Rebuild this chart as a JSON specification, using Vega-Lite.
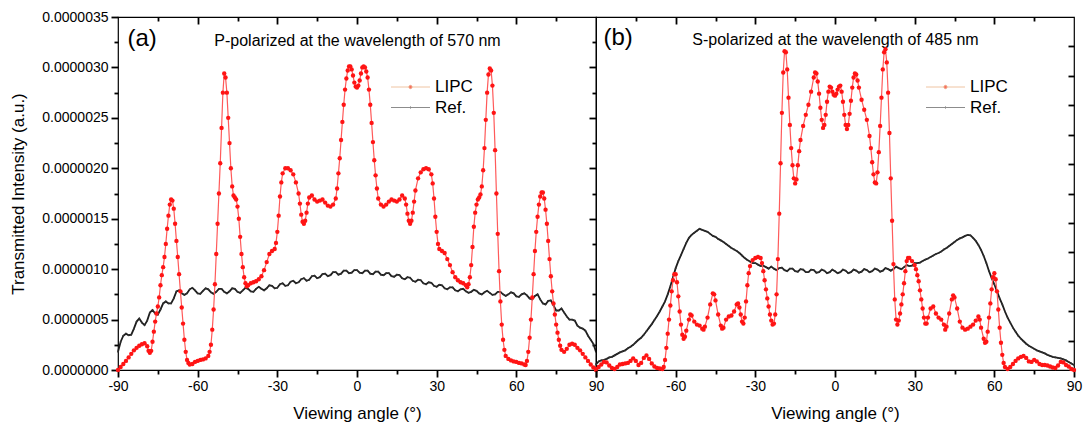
{
"$schema": "https://vega.github.io/schema/vega-lite/v6.json",
"padding": {"left": 8, "top": 9, "right": 0, "bottom": 0},
"autosize": {"type": "pad"},
"bounds": "flush",
"spacing": 0,
"config": {
 "font": "Liberation Sans",
 "view": {"stroke": "#000000", "strokeWidth": 1.2},
 "axis": {"grid": false, "domain": false, "labelColor": "#000000", "titleColor": "#000000", "labelFontSize": 14, "titleFontWeight": "normal", "labelFlush": false, "labelOverlap": false},
 "legend": {"labelColor": "#000000"}
},
"resolve": {"scale": {"stroke": "independent", "fill": "independent", "shape": "independent"}, "legend": {"stroke": "independent", "fill": "independent", "shape": "independent"}},
"datasets": {
"aL": [
{"x":-90,"y":0},{"x":-89,"y":0.3e-7},{"x":-88,"y":0.6e-7},{"x":-87,"y":0.9e-7},{"x":-86,"y":1.25e-7},{"x":-85,"y":1.6e-7},{"x":-84,"y":1.95e-7},{"x":-83,"y":2.2e-7},{"x":-82,"y":2.4e-7},{"x":-81,"y":2.55e-7},{"x":-80,"y":2.65e-7},{"x":-79,"y":2.35e-7},{"x":-78.5,"y":1.9e-7},{"x":-78,"y":1.7e-7},{"x":-77.5,"y":1.9e-7},{"x":-77,"y":2.8e-7},{"x":-76.5,"y":3.8e-7},{"x":-76,"y":4.8e-7},{"x":-75.5,"y":5.6e-7},{"x":-75,"y":6.3e-7},{"x":-74.5,"y":7.2e-7},{"x":-74,"y":8.4e-7},{"x":-73.5,"y":9.4e-7},{"x":-73,"y":10.2e-7},{"x":-72.5,"y":11.2e-7},{"x":-72,"y":12.5e-7},{"x":-71.5,"y":14.0e-7},{"x":-71,"y":15.3e-7},{"x":-70.5,"y":16.4e-7},{"x":-70,"y":16.9e-7},{"x":-69.5,"y":16.8e-7},{"x":-69,"y":16.0e-7},{"x":-68.5,"y":14.5e-7},{"x":-68,"y":12.8e-7},{"x":-67.5,"y":11.2e-7},{"x":-67,"y":9.5e-7},{"x":-66.5,"y":7.8e-7},{"x":-66,"y":6.2e-7},{"x":-65.5,"y":4.6e-7},{"x":-65,"y":3.0e-7},{"x":-64.5,"y":1.8e-7},{"x":-64,"y":1.0e-7},{"x":-63.5,"y":0.7e-7},{"x":-63,"y":0.55e-7},{"x":-62,"y":0.6e-7},{"x":-61,"y":0.8e-7},{"x":-60,"y":0.9e-7},{"x":-59,"y":1.0e-7},{"x":-58,"y":1.05e-7},{"x":-57,"y":1.15e-7},{"x":-56,"y":1.4e-7},{"x":-55.5,"y":1.8e-7},{"x":-55,"y":2.5e-7},{"x":-54.5,"y":4.0e-7},{"x":-54,"y":6.0e-7},{"x":-53.5,"y":8.5e-7},{"x":-53,"y":11.5e-7},{"x":-52.5,"y":14.5e-7},{"x":-52,"y":17.5e-7},{"x":-51.5,"y":20.5e-7},{"x":-51,"y":24.0e-7},{"x":-50.5,"y":27.5e-7},{"x":-50,"y":29.4e-7},{"x":-49.5,"y":29.0e-7},{"x":-49,"y":27.5e-7},{"x":-48.5,"y":25.0e-7},{"x":-48,"y":22.5e-7},{"x":-47.5,"y":20.0e-7},{"x":-47,"y":18.2e-7},{"x":-46.5,"y":17.3e-7},{"x":-46,"y":17.1e-7},{"x":-45.5,"y":16.9e-7},{"x":-45,"y":16.2e-7},{"x":-44.5,"y":15.0e-7},{"x":-44,"y":13.2e-7},{"x":-43.5,"y":11.5e-7},{"x":-43,"y":10.2e-7},{"x":-42.5,"y":9.2e-7},{"x":-42,"y":8.6e-7},{"x":-41.5,"y":8.3e-7},{"x":-41,"y":8.4e-7},{"x":-40,"y":8.6e-7},{"x":-39,"y":8.7e-7},{"x":-38,"y":8.8e-7},{"x":-37,"y":9.0e-7},{"x":-36,"y":9.3e-7},{"x":-35,"y":9.9e-7},{"x":-34,"y":10.7e-7},{"x":-33,"y":11.5e-7},{"x":-32,"y":11.8e-7},{"x":-31,"y":12.0e-7},{"x":-30.5,"y":12.6e-7},{"x":-30,"y":13.7e-7},{"x":-29.5,"y":15.3e-7},{"x":-29,"y":17.2e-7},{"x":-28.5,"y":18.6e-7},{"x":-28,"y":19.5e-7},{"x":-27,"y":20.0e-7},{"x":-26,"y":20.0e-7},{"x":-25,"y":19.8e-7},{"x":-24,"y":19.4e-7},{"x":-23,"y":18.6e-7},{"x":-22,"y":17.5e-7},{"x":-21.5,"y":16.5e-7},{"x":-21,"y":15.4e-7},{"x":-20.5,"y":14.7e-7},{"x":-20,"y":14.5e-7},{"x":-19.5,"y":14.8e-7},{"x":-19,"y":15.6e-7},{"x":-18.5,"y":16.5e-7},{"x":-18,"y":17.1e-7},{"x":-17,"y":17.3e-7},{"x":-16,"y":16.9e-7},{"x":-15,"y":16.7e-7},{"x":-14,"y":16.8e-7},{"x":-13,"y":16.9e-7},{"x":-12,"y":16.6e-7},{"x":-11,"y":16.3e-7},{"x":-10,"y":16.2e-7},{"x":-9,"y":16.4e-7},{"x":-8,"y":17.0e-7},{"x":-7.5,"y":18.0e-7},{"x":-7,"y":19.5e-7},{"x":-6.5,"y":21.0e-7},{"x":-6,"y":22.8e-7},{"x":-5.5,"y":24.6e-7},{"x":-5,"y":26.3e-7},{"x":-4.5,"y":27.8e-7},{"x":-4,"y":28.9e-7},{"x":-3.5,"y":29.7e-7},{"x":-3,"y":30.1e-7},{"x":-2.5,"y":30.1e-7},{"x":-2,"y":29.8e-7},{"x":-1.5,"y":29.2e-7},{"x":-1,"y":28.5e-7},{"x":-0.5,"y":28.1e-7},{"x":0,"y":28.0e-7},
{"x":0.5,"y":28.2e-7},{"x":1,"y":28.7e-7},{"x":1.5,"y":29.4e-7},{"x":2,"y":30.0e-7},{"x":2.5,"y":30.1e-7},{"x":3,"y":30.0e-7},{"x":3.5,"y":29.6e-7},{"x":4,"y":29.0e-7},{"x":4.5,"y":27.8e-7},{"x":5,"y":26.3e-7},{"x":5.5,"y":24.5e-7},{"x":6,"y":22.6e-7},{"x":6.5,"y":20.8e-7},{"x":7,"y":19.3e-7},{"x":7.5,"y":18.0e-7},{"x":8,"y":17.0e-7},{"x":9,"y":16.4e-7},{"x":10,"y":16.2e-7},{"x":11,"y":16.4e-7},{"x":12,"y":16.7e-7},{"x":13,"y":16.9e-7},{"x":14,"y":16.8e-7},{"x":15,"y":16.7e-7},{"x":16,"y":16.9e-7},{"x":17,"y":17.3e-7},{"x":18,"y":17.0e-7},{"x":18.5,"y":16.4e-7},{"x":19,"y":15.5e-7},{"x":19.5,"y":14.8e-7},{"x":20,"y":14.5e-7},{"x":20.5,"y":14.8e-7},{"x":21,"y":15.6e-7},{"x":21.5,"y":16.7e-7},{"x":22,"y":17.8e-7},{"x":23,"y":19.0e-7},{"x":24,"y":19.6e-7},{"x":25,"y":19.9e-7},{"x":26,"y":20.0e-7},{"x":27,"y":19.9e-7},{"x":28,"y":19.4e-7},{"x":28.5,"y":18.5e-7},{"x":29,"y":17.0e-7},{"x":29.5,"y":15.2e-7},{"x":30,"y":13.7e-7},{"x":30.5,"y":12.5e-7},{"x":31,"y":12.0e-7},{"x":32,"y":11.8e-7},{"x":33,"y":11.6e-7},{"x":34,"y":11.0e-7},{"x":35,"y":10.4e-7},{"x":36,"y":9.7e-7},{"x":37,"y":9.2e-7},{"x":38,"y":8.9e-7},{"x":39,"y":8.7e-7},{"x":40,"y":8.6e-7},{"x":41,"y":8.4e-7},{"x":41.5,"y":8.2e-7},{"x":42,"y":8.5e-7},{"x":42.5,"y":9.2e-7},{"x":43,"y":10.4e-7},{"x":43.5,"y":12.2e-7},{"x":44,"y":14.2e-7},{"x":44.5,"y":15.6e-7},{"x":45,"y":16.4e-7},{"x":45.5,"y":16.9e-7},{"x":46,"y":17.1e-7},{"x":46.5,"y":17.4e-7},{"x":47,"y":18.2e-7},{"x":47.5,"y":19.8e-7},{"x":48,"y":22.0e-7},{"x":48.5,"y":24.8e-7},{"x":49,"y":27.5e-7},{"x":49.5,"y":29.3e-7},{"x":50,"y":29.9e-7},{"x":50.5,"y":29.7e-7},{"x":51,"y":28.2e-7},{"x":51.5,"y":25.5e-7},{"x":52,"y":21.8e-7},{"x":52.5,"y":17.5e-7},{"x":53,"y":13.5e-7},{"x":53.5,"y":9.8e-7},{"x":54,"y":6.8e-7},{"x":54.5,"y":4.5e-7},{"x":55,"y":3.0e-7},{"x":55.5,"y":2.0e-7},{"x":56,"y":1.4e-7},{"x":57,"y":1.1e-7},{"x":58,"y":0.95e-7},{"x":59,"y":0.85e-7},{"x":60,"y":0.8e-7},{"x":61,"y":0.7e-7},{"x":62,"y":0.65e-7},{"x":63,"y":0.55e-7},{"x":63.5,"y":0.5e-7},{"x":64,"y":0.9e-7},{"x":64.5,"y":1.8e-7},{"x":65,"y":3.2e-7},{"x":65.5,"y":5.0e-7},{"x":66,"y":7.2e-7},{"x":66.5,"y":9.5e-7},{"x":67,"y":11.8e-7},{"x":67.5,"y":13.7e-7},{"x":68,"y":15.2e-7},{"x":68.5,"y":16.4e-7},{"x":69,"y":17.2e-7},{"x":69.5,"y":17.6e-7},{"x":70,"y":17.6e-7},{"x":70.5,"y":17.0e-7},{"x":71,"y":15.9e-7},{"x":71.5,"y":14.5e-7},{"x":72,"y":12.8e-7},{"x":72.5,"y":11.0e-7},{"x":73,"y":9.3e-7},{"x":73.5,"y":7.8e-7},{"x":74,"y":6.6e-7},{"x":74.5,"y":5.5e-7},{"x":75,"y":4.5e-7},{"x":75.5,"y":3.7e-7},{"x":76,"y":3.0e-7},{"x":76.5,"y":2.4e-7},{"x":77,"y":2.0e-7},{"x":78,"y":1.8e-7},{"x":79,"y":2.1e-7},{"x":80,"y":2.5e-7},{"x":81,"y":2.6e-7},{"x":82,"y":2.5e-7},{"x":83,"y":2.2e-7},{"x":84,"y":1.95e-7},{"x":85,"y":1.6e-7},{"x":86,"y":1.25e-7},{"x":87,"y":0.9e-7},{"x":88,"y":0.55e-7},{"x":89,"y":0.25e-7},{"x":90,"y":0}
],
"aR": [
{"x":-90,"y":1.8e-7},{"x":-89,"y":2.8e-7},{"x":-88,"y":3.4e-7},{"x":-87,"y":3.6e-7},{"x":-86,"y":3.45e-7},{"x":-85,"y":3.5e-7},{"x":-84,"y":4.1e-7},{"x":-83,"y":4.8e-7},{"x":-82,"y":5.1e-7},{"x":-81,"y":4.7e-7},{"x":-80,"y":4.45e-7},{"x":-79,"y":4.9e-7},{"x":-78,"y":5.7e-7},{"x":-77,"y":5.95e-7},{"x":-76,"y":5.6e-7},{"x":-75,"y":5.5e-7},{"x":-74,"y":6.0e-7},{"x":-73,"y":6.6e-7},{"x":-72,"y":6.8e-7},{"x":-71,"y":6.6e-7},{"x":-70,"y":6.6e-7},{"x":-69,"y":7.1e-7},{"x":-68,"y":7.8e-7},{"x":-67,"y":7.9e-7},{"x":-66,"y":7.6e-7},{"x":-65,"y":7.45e-7},{"x":-64,"y":7.6e-7},{"x":-63,"y":8.0e-7},{"x":-62,"y":8.15e-7},{"x":-61,"y":7.9e-7},{"x":-60,"y":7.6e-7},{"x":-59,"y":7.55e-7},{"x":-58,"y":7.85e-7},{"x":-57,"y":8.1e-7},{"x":-56,"y":8.0e-7},{"x":-55,"y":7.7e-7},{"x":-54,"y":7.55e-7},{"x":-53,"y":7.75e-7},{"x":-52,"y":8.05e-7},{"x":-51,"y":8.05e-7},{"x":-50,"y":7.75e-7},{"x":-49,"y":7.6e-7},{"x":-48,"y":7.8e-7},{"x":-47,"y":8.1e-7},{"x":-46,"y":8.05e-7},{"x":-45,"y":7.75e-7},{"x":-44,"y":7.65e-7},{"x":-43,"y":7.9e-7},{"x":-42,"y":8.15e-7},{"x":-41,"y":8.05e-7},{"x":-40,"y":7.8e-7},{"x":-39,"y":7.75e-7},{"x":-38,"y":8.05e-7},{"x":-37,"y":8.25e-7},{"x":-36,"y":8.05e-7},{"x":-35,"y":7.9e-7},{"x":-34,"y":8.1e-7},{"x":-33,"y":8.4e-7},{"x":-32,"y":8.35e-7},{"x":-31,"y":8.1e-7},{"x":-30,"y":8.15e-7},{"x":-29,"y":8.5e-7},{"x":-28,"y":8.6e-7},{"x":-27,"y":8.35e-7},{"x":-26,"y":8.4e-7},{"x":-25,"y":8.75e-7},{"x":-24,"y":8.85e-7},{"x":-23,"y":8.6e-7},{"x":-22,"y":8.7e-7},{"x":-21,"y":9.0e-7},{"x":-20,"y":9.1e-7},{"x":-19,"y":8.85e-7},{"x":-18,"y":8.95e-7},{"x":-17,"y":9.3e-7},{"x":-16,"y":9.35e-7},{"x":-15,"y":9.1e-7},{"x":-14,"y":9.2e-7},{"x":-13,"y":9.5e-7},{"x":-12,"y":9.55e-7},{"x":-11,"y":9.3e-7},{"x":-10,"y":9.4e-7},{"x":-9,"y":9.7e-7},{"x":-8,"y":9.7e-7},{"x":-7,"y":9.45e-7},{"x":-6,"y":9.55e-7},{"x":-5,"y":9.85e-7},{"x":-4,"y":9.85e-7},{"x":-3,"y":9.6e-7},{"x":-2,"y":9.65e-7},{"x":-1,"y":9.9e-7},{"x":0,"y":9.9e-7},{"x":1,"y":9.65e-7},{"x":2,"y":9.6e-7},{"x":3,"y":9.85e-7},{"x":4,"y":9.85e-7},{"x":5,"y":9.55e-7},{"x":6,"y":9.5e-7},{"x":7,"y":9.75e-7},{"x":8,"y":9.75e-7},{"x":9,"y":9.45e-7},{"x":10,"y":9.4e-7},{"x":11,"y":9.6e-7},{"x":12,"y":9.6e-7},{"x":13,"y":9.3e-7},{"x":14,"y":9.25e-7},{"x":15,"y":9.45e-7},{"x":16,"y":9.4e-7},{"x":17,"y":9.1e-7},{"x":18,"y":9.0e-7},{"x":19,"y":9.2e-7},{"x":20,"y":9.15e-7},{"x":21,"y":8.85e-7},{"x":22,"y":8.75e-7},{"x":23,"y":8.95e-7},{"x":24,"y":8.9e-7},{"x":25,"y":8.6e-7},{"x":26,"y":8.5e-7},{"x":27,"y":8.7e-7},{"x":28,"y":8.65e-7},{"x":29,"y":8.35e-7},{"x":30,"y":8.25e-7},{"x":31,"y":8.45e-7},{"x":32,"y":8.4e-7},{"x":33,"y":8.1e-7},{"x":34,"y":8.0e-7},{"x":35,"y":8.2e-7},{"x":36,"y":8.2e-7},{"x":37,"y":7.9e-7},{"x":38,"y":7.8e-7},{"x":39,"y":8.0e-7},{"x":40,"y":8.05e-7},{"x":41,"y":7.8e-7},{"x":42,"y":7.65e-7},{"x":43,"y":7.75e-7},{"x":44,"y":7.95e-7},{"x":45,"y":7.85e-7},{"x":46,"y":7.6e-7},{"x":47,"y":7.5e-7},{"x":48,"y":7.7e-7},{"x":49,"y":7.85e-7},{"x":50,"y":7.65e-7},{"x":51,"y":7.45e-7},{"x":52,"y":7.5e-7},{"x":53,"y":7.75e-7},{"x":54,"y":7.75e-7},{"x":55,"y":7.5e-7},{"x":56,"y":7.35e-7},{"x":57,"y":7.5e-7},{"x":58,"y":7.7e-7},{"x":59,"y":7.6e-7},{"x":60,"y":7.3e-7},{"x":61,"y":7.25e-7},{"x":62,"y":7.5e-7},{"x":63,"y":7.6e-7},{"x":64,"y":7.4e-7},{"x":65,"y":7.1e-7},{"x":66,"y":7.0e-7},{"x":67,"y":7.35e-7},{"x":68,"y":7.5e-7},{"x":69,"y":7.0e-7},{"x":70,"y":6.6e-7},{"x":71,"y":6.5e-7},{"x":72,"y":6.85e-7},{"x":73,"y":6.9e-7},{"x":74,"y":6.4e-7},{"x":75,"y":5.9e-7},{"x":76,"y":5.9e-7},{"x":77,"y":6.1e-7},{"x":78,"y":5.7e-7},{"x":79,"y":5.3e-7},{"x":80,"y":5.0e-7},{"x":81,"y":5.0e-7},{"x":82,"y":4.9e-7},{"x":83,"y":4.4e-7},{"x":84,"y":4.2e-7},{"x":85,"y":4.1e-7},{"x":86,"y":3.9e-7},{"x":87,"y":3.4e-7},{"x":88,"y":3.0e-7},{"x":89,"y":2.6e-7},{"x":90,"y":1.8e-7}
],
"bL": [
{"x":-90,"y":0.1e-7},{"x":-89,"y":0.3e-7},{"x":-88,"y":0.55e-7},{"x":-87,"y":0.8e-7},{"x":-86,"y":0.75e-7},{"x":-85,"y":0.45e-7},{"x":-84,"y":0.2e-7},{"x":-83,"y":0.1e-7},{"x":-82,"y":0.3e-7},{"x":-81,"y":0.55e-7},{"x":-80,"y":0.6e-7},{"x":-79,"y":0.65e-7},{"x":-78,"y":0.7e-7},{"x":-77,"y":0.9e-7},{"x":-76,"y":1.15e-7},{"x":-75,"y":0.9e-7},{"x":-74,"y":0.5e-7},{"x":-73,"y":0.7e-7},{"x":-72,"y":1.2e-7},{"x":-71,"y":1.45e-7},{"x":-70,"y":1.1e-7},{"x":-69,"y":0.65e-7},{"x":-68,"y":0.35e-7},{"x":-67,"y":0.2e-7},{"x":-66,"y":0.15e-7},{"x":-65,"y":0.1e-7},{"x":-64.5,"y":0.3e-7},{"x":-64,"y":1.0e-7},{"x":-63.5,"y":2.2e-7},{"x":-63,"y":3.6e-7},{"x":-62.5,"y":5.0e-7},{"x":-62,"y":6.4e-7},{"x":-61.5,"y":7.8e-7},{"x":-61,"y":8.9e-7},{"x":-60.5,"y":9.5e-7},{"x":-60,"y":9.5e-7},{"x":-59.5,"y":8.7e-7},{"x":-59,"y":7.3e-7},{"x":-58.5,"y":5.8e-7},{"x":-58,"y":4.5e-7},{"x":-57.5,"y":3.5e-7},{"x":-57,"y":3.1e-7},{"x":-56.5,"y":3.3e-7},{"x":-56,"y":3.9e-7},{"x":-55,"y":5.0e-7},{"x":-54.5,"y":5.5e-7},{"x":-54,"y":5.4e-7},{"x":-53,"y":4.8e-7},{"x":-52,"y":4.5e-7},{"x":-51,"y":4.4e-7},{"x":-50,"y":4.1e-7},{"x":-49.5,"y":4.0e-7},{"x":-49,"y":4.3e-7},{"x":-48,"y":5.2e-7},{"x":-47,"y":6.5e-7},{"x":-46,"y":7.6e-7},{"x":-45.5,"y":7.5e-7},{"x":-45,"y":6.9e-7},{"x":-44,"y":5.5e-7},{"x":-43,"y":4.4e-7},{"x":-42.5,"y":4.1e-7},{"x":-42,"y":4.2e-7},{"x":-41,"y":5.0e-7},{"x":-40,"y":5.3e-7},{"x":-39,"y":5.4e-7},{"x":-38,"y":5.8e-7},{"x":-37,"y":6.5e-7},{"x":-36.5,"y":6.6e-7},{"x":-36,"y":6.2e-7},{"x":-35.5,"y":5.5e-7},{"x":-35,"y":4.8e-7},{"x":-34.5,"y":4.6e-7},{"x":-34,"y":5.2e-7},{"x":-33.5,"y":6.8e-7},{"x":-33,"y":8.4e-7},{"x":-32.5,"y":9.6e-7},{"x":-32,"y":10.3e-7},{"x":-31,"y":10.9e-7},{"x":-30,"y":11.1e-7},{"x":-29,"y":11.2e-7},{"x":-28,"y":11.1e-7},{"x":-27.5,"y":10.6e-7},{"x":-27,"y":9.8e-7},{"x":-26.5,"y":8.9e-7},{"x":-26,"y":8.0e-7},{"x":-25.5,"y":7.1e-7},{"x":-25,"y":6.3e-7},{"x":-24.5,"y":5.5e-7},{"x":-24,"y":4.9e-7},{"x":-23.5,"y":4.5e-7},{"x":-23,"y":4.6e-7},{"x":-22.5,"y":5.5e-7},{"x":-22,"y":7.5e-7},{"x":-21.5,"y":11.0e-7},{"x":-21,"y":15.5e-7},{"x":-20.5,"y":20.5e-7},{"x":-20,"y":25.5e-7},{"x":-19.5,"y":29.5e-7},{"x":-19,"y":31.6e-7},{"x":-18.5,"y":31.5e-7},{"x":-18,"y":29.8e-7},{"x":-17.5,"y":27.0e-7},{"x":-17,"y":24.3e-7},{"x":-16.5,"y":22.0e-7},{"x":-16,"y":20.3e-7},{"x":-15.5,"y":19.0e-7},{"x":-15,"y":18.5e-7},{"x":-14.5,"y":18.9e-7},{"x":-14,"y":20.3e-7},{"x":-13.5,"y":21.7e-7},{"x":-13,"y":22.8e-7},{"x":-12,"y":24.2e-7},{"x":-11,"y":25.3e-7},{"x":-10,"y":26.3e-7},{"x":-9,"y":27.6e-7},{"x":-8,"y":29.0e-7},{"x":-7.5,"y":29.5e-7},{"x":-7,"y":29.4e-7},{"x":-6.5,"y":28.6e-7},{"x":-6,"y":27.4e-7},{"x":-5.5,"y":26.0e-7},{"x":-5,"y":24.8e-7},{"x":-4.5,"y":24.0e-7},{"x":-4,"y":24.3e-7},{"x":-3.5,"y":25.3e-7},{"x":-3,"y":26.6e-7},{"x":-2.5,"y":27.6e-7},{"x":-2,"y":28.1e-7},{"x":-1.5,"y":28.0e-7},{"x":-1,"y":27.6e-7},{"x":-0.5,"y":27.3e-7},{"x":0,"y":27.2e-7},
{"x":0.5,"y":27.4e-7},{"x":1,"y":27.8e-7},{"x":1.5,"y":28.1e-7},{"x":2,"y":28.2e-7},{"x":2.5,"y":27.6e-7},{"x":3,"y":26.6e-7},{"x":3.5,"y":25.3e-7},{"x":4,"y":24.3e-7},{"x":4.5,"y":23.9e-7},{"x":5,"y":24.3e-7},{"x":5.5,"y":25.4e-7},{"x":6,"y":26.7e-7},{"x":6.5,"y":28.0e-7},{"x":7,"y":29.0e-7},{"x":7.5,"y":29.4e-7},{"x":8,"y":29.3e-7},{"x":8.5,"y":28.7e-7},{"x":9,"y":28.0e-7},{"x":10,"y":26.8e-7},{"x":11,"y":25.8e-7},{"x":12,"y":24.8e-7},{"x":13,"y":23.2e-7},{"x":13.5,"y":22.0e-7},{"x":14,"y":20.6e-7},{"x":14.5,"y":19.4e-7},{"x":15,"y":18.6e-7},{"x":15.5,"y":18.5e-7},{"x":16,"y":19.6e-7},{"x":16.5,"y":21.6e-7},{"x":17,"y":24.2e-7},{"x":17.5,"y":27.0e-7},{"x":18,"y":29.8e-7},{"x":18.5,"y":31.5e-7},{"x":19,"y":31.8e-7},{"x":19.5,"y":30.5e-7},{"x":20,"y":27.5e-7},{"x":20.5,"y":23.5e-7},{"x":21,"y":19.0e-7},{"x":21.5,"y":14.8e-7},{"x":22,"y":10.5e-7},{"x":22.5,"y":7.0e-7},{"x":23,"y":5.0e-7},{"x":23.5,"y":4.5e-7},{"x":24,"y":4.9e-7},{"x":24.5,"y":5.6e-7},{"x":25,"y":6.5e-7},{"x":25.5,"y":7.5e-7},{"x":26,"y":8.6e-7},{"x":26.5,"y":9.8e-7},{"x":27,"y":10.8e-7},{"x":27.5,"y":11.1e-7},{"x":28,"y":11.1e-7},{"x":29,"y":10.8e-7},{"x":30,"y":10.4e-7},{"x":30.5,"y":10.0e-7},{"x":31,"y":9.4e-7},{"x":31.5,"y":8.8e-7},{"x":32,"y":7.9e-7},{"x":32.5,"y":7.0e-7},{"x":33,"y":6.1e-7},{"x":33.5,"y":5.2e-7},{"x":34,"y":4.6e-7},{"x":34.5,"y":4.6e-7},{"x":35,"y":5.2e-7},{"x":36,"y":6.1e-7},{"x":37,"y":6.3e-7},{"x":38,"y":5.6e-7},{"x":39,"y":5.2e-7},{"x":40,"y":5.0e-7},{"x":41,"y":4.5e-7},{"x":41.5,"y":4.0e-7},{"x":42,"y":4.3e-7},{"x":43,"y":5.6e-7},{"x":44,"y":7.0e-7},{"x":44.5,"y":7.4e-7},{"x":45,"y":7.2e-7},{"x":46,"y":6.1e-7},{"x":47,"y":4.8e-7},{"x":48,"y":4.2e-7},{"x":49,"y":4.0e-7},{"x":50,"y":4.1e-7},{"x":51,"y":4.3e-7},{"x":52,"y":4.5e-7},{"x":53,"y":4.9e-7},{"x":54,"y":5.3e-7},{"x":54.5,"y":5.0e-7},{"x":55,"y":4.2e-7},{"x":56,"y":3.1e-7},{"x":56.5,"y":2.7e-7},{"x":57,"y":2.8e-7},{"x":57.5,"y":3.8e-7},{"x":58,"y":5.2e-7},{"x":58.5,"y":6.6e-7},{"x":59,"y":8.0e-7},{"x":59.5,"y":9.2e-7},{"x":60,"y":9.6e-7},{"x":60.5,"y":9.0e-7},{"x":61,"y":7.8e-7},{"x":61.5,"y":6.0e-7},{"x":62,"y":4.2e-7},{"x":62.5,"y":2.7e-7},{"x":63,"y":1.5e-7},{"x":63.5,"y":0.7e-7},{"x":64,"y":0.3e-7},{"x":65,"y":0.1e-7},{"x":66,"y":0.3e-7},{"x":67,"y":0.6e-7},{"x":68,"y":0.9e-7},{"x":69,"y":1.15e-7},{"x":70,"y":1.3e-7},{"x":71,"y":1.4e-7},{"x":72,"y":1.2e-7},{"x":73,"y":0.85e-7},{"x":74,"y":0.8e-7},{"x":75,"y":1.0e-7},{"x":76,"y":0.85e-7},{"x":77,"y":0.6e-7},{"x":78,"y":0.5e-7},{"x":79,"y":0.5e-7},{"x":80,"y":0.45e-7},{"x":81,"y":0.35e-7},{"x":82,"y":0.25e-7},{"x":83,"y":0.2e-7},{"x":84,"y":0.45e-7},{"x":85,"y":0.8e-7},{"x":86,"y":0.75e-7},{"x":87,"y":0.5e-7},{"x":88,"y":0.35e-7},{"x":89,"y":0.1e-7},{"x":90,"y":0}
],
"bR": [
{"x":-90,"y":0.55e-7},{"x":-89,"y":0.85e-7},{"x":-88,"y":0.95e-7},{"x":-87,"y":1.0e-7},{"x":-86,"y":1.1e-7},{"x":-85,"y":1.25e-7},{"x":-84,"y":1.3e-7},{"x":-83,"y":1.45e-7},{"x":-82,"y":1.6e-7},{"x":-81,"y":1.75e-7},{"x":-80,"y":1.85e-7},{"x":-79,"y":1.95e-7},{"x":-78,"y":2.15e-7},{"x":-77,"y":2.3e-7},{"x":-76,"y":2.5e-7},{"x":-75,"y":2.75e-7},{"x":-74,"y":3.0e-7},{"x":-73,"y":3.2e-7},{"x":-72,"y":3.5e-7},{"x":-71,"y":3.85e-7},{"x":-70,"y":4.2e-7},{"x":-69,"y":4.55e-7},{"x":-68,"y":4.95e-7},{"x":-67,"y":5.35e-7},{"x":-66,"y":5.8e-7},{"x":-65,"y":6.3e-7},{"x":-64,"y":6.8e-7},{"x":-63,"y":7.5e-7},{"x":-62,"y":8.3e-7},{"x":-61,"y":9.2e-7},{"x":-60,"y":10.1e-7},{"x":-59,"y":10.8e-7},{"x":-58,"y":11.4e-7},{"x":-57,"y":12.0e-7},{"x":-56,"y":12.6e-7},{"x":-55,"y":13.1e-7},{"x":-54,"y":13.4e-7},{"x":-53,"y":13.6e-7},{"x":-52,"y":13.8e-7},{"x":-51,"y":14.0e-7},{"x":-50,"y":13.9e-7},{"x":-49,"y":13.8e-7},{"x":-48,"y":13.7e-7},{"x":-47,"y":13.5e-7},{"x":-46,"y":13.3e-7},{"x":-45,"y":13.2e-7},{"x":-44,"y":13.0e-7},{"x":-43,"y":12.85e-7},{"x":-42,"y":12.7e-7},{"x":-41,"y":12.5e-7},{"x":-40,"y":12.3e-7},{"x":-39,"y":12.1e-7},{"x":-38,"y":11.95e-7},{"x":-37,"y":11.8e-7},{"x":-36,"y":11.6e-7},{"x":-35,"y":11.35e-7},{"x":-34,"y":11.1e-7},{"x":-33,"y":10.9e-7},{"x":-32,"y":10.75e-7},{"x":-31,"y":10.6e-7},{"x":-30,"y":10.6e-7},{"x":-29,"y":10.45e-7},{"x":-28,"y":10.3e-7},{"x":-27,"y":10.35e-7},{"x":-26,"y":10.2e-7},{"x":-25,"y":10.05e-7},{"x":-24,"y":10.25e-7},{"x":-23,"y":10.05e-7},{"x":-22,"y":9.9e-7},{"x":-21,"y":10.1e-7},{"x":-20,"y":10.15e-7},{"x":-19,"y":9.9e-7},{"x":-18,"y":9.8e-7},{"x":-17,"y":10.05e-7},{"x":-16,"y":10.05e-7},{"x":-15,"y":9.8e-7},{"x":-14,"y":9.75e-7},{"x":-13,"y":10.0e-7},{"x":-12,"y":9.95e-7},{"x":-11,"y":9.7e-7},{"x":-10,"y":9.7e-7},{"x":-9,"y":9.95e-7},{"x":-8,"y":9.9e-7},{"x":-7,"y":9.65e-7},{"x":-6,"y":9.7e-7},{"x":-5,"y":9.95e-7},{"x":-4,"y":9.85e-7},{"x":-3,"y":9.6e-7},{"x":-2,"y":9.7e-7},{"x":-1,"y":9.95e-7},{"x":0,"y":9.8e-7},{"x":1,"y":9.6e-7},{"x":2,"y":9.7e-7},{"x":3,"y":9.95e-7},{"x":4,"y":9.85e-7},{"x":5,"y":9.6e-7},{"x":6,"y":9.7e-7},{"x":7,"y":9.95e-7},{"x":8,"y":9.85e-7},{"x":9,"y":9.65e-7},{"x":10,"y":9.75e-7},{"x":11,"y":10.0e-7},{"x":12,"y":9.9e-7},{"x":13,"y":9.7e-7},{"x":14,"y":9.8e-7},{"x":15,"y":10.05e-7},{"x":16,"y":9.95e-7},{"x":17,"y":9.75e-7},{"x":18,"y":9.85e-7},{"x":19,"y":10.1e-7},{"x":20,"y":10.0e-7},{"x":21,"y":9.85e-7},{"x":22,"y":10.0e-7},{"x":23,"y":10.25e-7},{"x":24,"y":10.1e-7},{"x":25,"y":10.0e-7},{"x":26,"y":10.2e-7},{"x":27,"y":10.4e-7},{"x":28,"y":10.3e-7},{"x":29,"y":10.35e-7},{"x":30,"y":10.6e-7},{"x":31,"y":10.6e-7},{"x":32,"y":10.65e-7},{"x":33,"y":10.8e-7},{"x":34,"y":10.95e-7},{"x":35,"y":11.05e-7},{"x":36,"y":11.2e-7},{"x":37,"y":11.35e-7},{"x":38,"y":11.5e-7},{"x":39,"y":11.6e-7},{"x":40,"y":11.75e-7},{"x":41,"y":11.95e-7},{"x":42,"y":12.1e-7},{"x":43,"y":12.3e-7},{"x":44,"y":12.5e-7},{"x":45,"y":12.7e-7},{"x":46,"y":12.9e-7},{"x":47,"y":13.05e-7},{"x":48,"y":13.15e-7},{"x":49,"y":13.3e-7},{"x":50,"y":13.4e-7},{"x":51,"y":13.35e-7},{"x":52,"y":13.1e-7},{"x":53,"y":12.8e-7},{"x":54,"y":12.4e-7},{"x":55,"y":11.9e-7},{"x":56,"y":11.3e-7},{"x":57,"y":10.6e-7},{"x":58,"y":9.8e-7},{"x":59,"y":9.1e-7},{"x":60,"y":8.5e-7},{"x":61,"y":7.8e-7},{"x":62,"y":7.1e-7},{"x":63,"y":6.5e-7},{"x":64,"y":5.8e-7},{"x":65,"y":5.2e-7},{"x":66,"y":4.7e-7},{"x":67,"y":4.2e-7},{"x":68,"y":3.8e-7},{"x":69,"y":3.4e-7},{"x":70,"y":3.1e-7},{"x":71,"y":2.85e-7},{"x":72,"y":2.6e-7},{"x":73,"y":2.4e-7},{"x":74,"y":2.25e-7},{"x":75,"y":2.1e-7},{"x":76,"y":1.95e-7},{"x":77,"y":1.85e-7},{"x":78,"y":1.75e-7},{"x":79,"y":1.65e-7},{"x":80,"y":1.5e-7},{"x":81,"y":1.4e-7},{"x":82,"y":1.3e-7},{"x":83,"y":1.25e-7},{"x":84,"y":1.2e-7},{"x":85,"y":1.15e-7},{"x":86,"y":1.05e-7},{"x":87,"y":0.95e-7},{"x":88,"y":0.8e-7},{"x":89,"y":0.65e-7},{"x":90,"y":0.5e-7}
]
},
"hconcat": [
{
 "width": 478, "height": 353,
 "resolve": {"axis": {"x": "independent", "y": "independent"}},
 "layer": [
  {"data": {"name": "aR"}, "mark": {"type": "line", "strokeWidth": 1.8, "stroke": "#1e1e1e"},
   "encoding": {
    "x": {"field": "x", "type": "quantitative", "scale": {"domain": [-90, 90], "nice": false, "zero": false},
          "axis": {"orient": "top", "values": [-60,-30,0,30,60], "tickColor": "black", "tickWidth": 1.8, "tickSize": -7, "labels": false, "title": "(a)", "titleX": 9, "titleY": 28, "titleAlign": "left", "titleBaseline": "alphabetic", "titleFontSize": 24, "titleAngle": 0}},
    "y": {"field": "y", "type": "quantitative", "scale": {"domain": [0, 3.5e-6], "nice": false, "zero": true},
          "axis": {"orient": "right", "values": [5e-7,1e-6,1.5e-6,2e-6,2.5e-6,3e-6], "tickColor": "black", "tickWidth": 1.8, "tickSize": -7, "labels": false, "title": null}}
   }},
  {"data": {"name": "aR"}, "mark": {"type": "point", "filled": true, "size": 3, "color": "#333333", "opacity": 1},
   "encoding": {
    "x": {"field": "x", "type": "quantitative",
          "axis": {"orient": "top", "values": [-75,-45,-15,15,45,75], "tickColor": "black", "tickWidth": 1.8, "tickSize": -4, "labels": false, "title": "P-polarized at the wavelength of 570 nm", "titleX": 239, "titleY": 28, "titleAlign": "center", "titleBaseline": "alphabetic", "titleFontSize": 16, "titleAngle": 0}},
    "y": {"field": "y", "type": "quantitative",
          "axis": {"orient": "right", "values": [2.5e-7,7.5e-7,1.25e-6,1.75e-6,2.25e-6,2.75e-6,3.25e-6], "tickColor": "black", "tickWidth": 1.8, "tickSize": -4, "labels": false, "title": null}}
   }},
  {"data": {"name": "aL"}, "mark": {"type": "line", "strokeWidth": 1.2, "stroke": "#ff5a5a"},
   "encoding": {
    "x": {"field": "x", "type": "quantitative",
          "axis": {"orient": "bottom", "values": [-90,-60,-30,0,30,60,90], "tickColor": "black", "tickWidth": 1.8, "tickSize": 7, "labelPadding": 2, "labelExpr": "datum.value + ''", "title": "Viewing angle (°)", "titleY": 43, "titleBaseline": "middle", "titleFontSize": 17}},
    "y": {"field": "y", "type": "quantitative",
          "axis": {"orient": "left", "values": [0,5e-7,1e-6,1.5e-6,2e-6,2.5e-6,3e-6,3.5e-6], "tickColor": "black", "tickWidth": 1.8, "format": ".7f", "tickSize": 7, "labelPadding": 3, "title": "Transmitted Intensity (a.u.)", "titleX": -100, "titleY": 176.5, "titleAngle": -90, "titleAlign": "center", "titleBaseline": "middle", "titleFontSize": 17}}
   }},
  {"data": {"name": "aL"}, "mark": {"type": "point", "filled": true, "size": 19, "color": "#ff1414", "opacity": 1},
   "encoding": {
    "x": {"field": "x", "type": "quantitative",
          "axis": {"orient": "bottom", "values": [-75,-45,-15,15,45,75], "tickColor": "black", "tickWidth": 1.8, "tickSize": 4, "labels": false, "title": null}},
    "y": {"field": "y", "type": "quantitative",
          "axis": {"orient": "left", "values": [2.5e-7,7.5e-7,1.25e-6,1.75e-6,2.25e-6,2.75e-6,3.25e-6], "tickColor": "black", "tickWidth": 1.8, "tickSize": 4, "labels": false, "title": null}}
   }},
  {"data": {"name": "aL"}, "transform": [{"filter": "datum.x > 1000"}],
   "mark": {"type": "point", "filled": true, "size": 100, "strokeWidth": 1, "opacity": 1},
   "encoding": {
    "x": {"field": "x", "type": "quantitative", "axis": null},
    "y": {"field": "y", "type": "quantitative", "axis": null},
    "stroke": {"datum": "LIPC", "type": "nominal", "scale": {"domain": ["LIPC", "Ref."], "range": ["#efc4a2", "#8c8c8c"]},
      "legend": {"orient": "none", "legendX": 284, "legendY": 61.5, "title": null, "padding": 0, "rowPadding": 2.5, "labelFontSize": 17, "labelOffset": 16, "symbolSize": 100, "symbolStrokeWidth": 1}},
    "fill": {"datum": "LIPC", "type": "nominal", "scale": {"domain": ["LIPC", "Ref."], "range": ["#ff1a1a", "#555555"]},
      "legend": {"orient": "none", "legendX": 284, "legendY": 61.5, "title": null, "padding": 0, "rowPadding": 2.5, "labelFontSize": 17, "labelOffset": 16, "symbolSize": 100, "symbolStrokeWidth": 1}},
    "shape": {"datum": "LIPC", "type": "nominal", "scale": {"domain": ["LIPC", "Ref."], "range": ["M-3.9,0H3.9M-0.34,0A0.34,0.34 0 1 0 0.34,0A0.34,0.34 0 1 0 -0.34,0", "M-3.9,0H3.9M-0.14,0A0.14,0.14 0 1 0 0.14,0A0.14,0.14 0 1 0 -0.14,0"]},
      "legend": {"orient": "none", "legendX": 284, "legendY": 61.5, "title": null, "padding": 0, "rowPadding": 2.5, "labelFontSize": 17, "labelOffset": 16, "symbolSize": 100, "symbolStrokeWidth": 1}}
   }},
  {"data": {"name": "aR"}, "transform": [{"filter": "datum.x > 1000"}],
   "mark": {"type": "point", "filled": true, "size": 100, "strokeWidth": 1, "opacity": 1},
   "encoding": {
    "x": {"field": "x", "type": "quantitative", "axis": null},
    "y": {"field": "y", "type": "quantitative", "axis": null},
    "stroke": {"datum": "Ref.", "type": "nominal"},
    "fill": {"datum": "Ref.", "type": "nominal"},
    "shape": {"datum": "Ref.", "type": "nominal"}
   }}
 ]
},
{
 "width": 478, "height": 353,
 "resolve": {"axis": {"x": "independent", "y": "independent"}},
 "layer": [
  {"data": {"name": "bR"}, "mark": {"type": "line", "strokeWidth": 1.8, "stroke": "#1e1e1e"},
   "encoding": {
    "x": {"field": "x", "type": "quantitative", "scale": {"domain": [-90, 90], "nice": false, "zero": false},
          "axis": {"orient": "top", "values": [-60,-30,0,30,60], "tickColor": "black", "tickWidth": 1.8, "tickSize": -7, "labels": false, "title": "(b)", "titleX": 7, "titleY": 27, "titleAlign": "left", "titleBaseline": "alphabetic", "titleFontSize": 24, "titleAngle": 0}},
    "y": {"field": "y", "type": "quantitative", "scale": {"domain": [0, 3.5e-6], "nice": false, "zero": true},
          "axis": {"orient": "right", "values": [2.9167e-7,5.8333e-7,8.75e-7,1.16667e-6,1.45833e-6,1.75e-6,2.04167e-6,2.33333e-6,2.625e-6,2.91667e-6,3.20833e-6], "tickColor": "black", "tickWidth": 1.8, "tickSize": -6, "labels": false, "title": null}}
   }},
  {"data": {"name": "bR"}, "mark": {"type": "point", "filled": true, "size": 3, "color": "#333333", "opacity": 1},
   "encoding": {
    "x": {"field": "x", "type": "quantitative",
          "axis": {"orient": "top", "values": [-75,-45,-15,15,45,75], "tickColor": "black", "tickWidth": 1.8, "tickSize": -4, "labels": false, "title": "S-polarized at the wavelength of 485 nm", "titleX": 239, "titleY": 27, "titleAlign": "center", "titleBaseline": "alphabetic", "titleFontSize": 16, "titleAngle": 0}},
    "y": {"field": "y", "type": "quantitative", "axis": null}
   }},
  {"data": {"name": "bL"}, "mark": {"type": "line", "strokeWidth": 1.2, "stroke": "#ff5a5a"},
   "encoding": {
    "x": {"field": "x", "type": "quantitative",
          "axis": {"orient": "bottom", "values": [-90,-60,-30,0,30,60,90], "tickColor": "black", "tickWidth": 1.8, "tickSize": 7, "labelPadding": 2, "labelExpr": "datum.value == -90 ? '' : datum.value + ''", "title": "Viewing angle (°)", "titleY": 43, "titleBaseline": "middle", "titleFontSize": 17}},
    "y": {"field": "y", "type": "quantitative", "axis": null}
   }},
  {"data": {"name": "bL"}, "mark": {"type": "point", "filled": true, "size": 19, "color": "#ff1414", "opacity": 1},
   "encoding": {
    "x": {"field": "x", "type": "quantitative",
          "axis": {"orient": "bottom", "values": [-75,-45,-15,15,45,75], "tickColor": "black", "tickWidth": 1.8, "tickSize": 4, "labels": false, "title": null}},
    "y": {"field": "y", "type": "quantitative", "axis": null}
   }},
  {"data": {"name": "bL"}, "transform": [{"filter": "datum.x > 1000"}],
   "mark": {"type": "point", "filled": true, "size": 100, "strokeWidth": 1, "opacity": 1},
   "encoding": {
    "x": {"field": "x", "type": "quantitative", "axis": null},
    "y": {"field": "y", "type": "quantitative", "axis": null},
    "stroke": {"datum": "LIPC", "type": "nominal", "scale": {"domain": ["LIPC", "Ref."], "range": ["#efc4a2", "#8c8c8c"]},
      "legend": {"orient": "none", "legendX": 341, "legendY": 61.5, "title": null, "padding": 0, "rowPadding": 2.5, "labelFontSize": 17, "labelOffset": 16, "symbolSize": 100, "symbolStrokeWidth": 1}},
    "fill": {"datum": "LIPC", "type": "nominal", "scale": {"domain": ["LIPC", "Ref."], "range": ["#ff1a1a", "#555555"]},
      "legend": {"orient": "none", "legendX": 341, "legendY": 61.5, "title": null, "padding": 0, "rowPadding": 2.5, "labelFontSize": 17, "labelOffset": 16, "symbolSize": 100, "symbolStrokeWidth": 1}},
    "shape": {"datum": "LIPC", "type": "nominal", "scale": {"domain": ["LIPC", "Ref."], "range": ["M-3.9,0H3.9M-0.34,0A0.34,0.34 0 1 0 0.34,0A0.34,0.34 0 1 0 -0.34,0", "M-3.9,0H3.9M-0.14,0A0.14,0.14 0 1 0 0.14,0A0.14,0.14 0 1 0 -0.14,0"]},
      "legend": {"orient": "none", "legendX": 341, "legendY": 61.5, "title": null, "padding": 0, "rowPadding": 2.5, "labelFontSize": 17, "labelOffset": 16, "symbolSize": 100, "symbolStrokeWidth": 1}}
   }},
  {"data": {"name": "bR"}, "transform": [{"filter": "datum.x > 1000"}],
   "mark": {"type": "point", "filled": true, "size": 100, "strokeWidth": 1, "opacity": 1},
   "encoding": {
    "x": {"field": "x", "type": "quantitative", "axis": null},
    "y": {"field": "y", "type": "quantitative", "axis": null},
    "stroke": {"datum": "Ref.", "type": "nominal"},
    "fill": {"datum": "Ref.", "type": "nominal"},
    "shape": {"datum": "Ref.", "type": "nominal"}
   }}
 ]
}
]
}
